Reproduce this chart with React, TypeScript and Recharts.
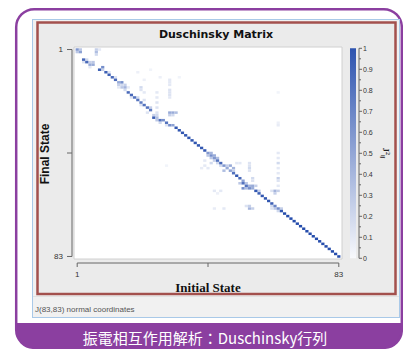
import React from 'react';
import { ScatterChart, Scatter, XAxis, YAxis, ReferenceArea, ReferenceLine } from 'recharts';

// ---------- data ----------
const stateTicks = [1, 42, 83];
const stateTickLabels = ['1', '', '83'];
const colorbarMajorTicks = [0, 0.1, 0.2, 0.3, 0.4, 0.5, 0.6, 0.7, 0.8, 0.9, 1];
const colorbarMajorLabels = ['0', '0.1', '0.2', '0.3', '0.4', '0.5', '0.6', '0.7', '0.8', '0.9', '1'];
const colorbarMinorTicks = [0.05, 0.15, 0.25, 0.35, 0.45, 0.55, 0.65, 0.75, 0.85, 0.95];

// [initial state, final state, J_ij^2] — dominant (near-diagonal) elements
const mainCells: [number, number, number][] = [
  [1, 1, 0.55], [2, 2, 0.5], [3, 5, 0.8], [4, 6, 0.8], [5, 7, 0.45], [6, 7, 0.45], [7, 2, 0.35],
  [8, 9, 0.85], [9, 8, 0.6], [10, 10, 0.85], [11, 11, 0.85], [12, 12, 0.8], [13, 13, 0.8], [14, 14, 0.45],
  [15, 14, 0.6], [16, 16, 0.4], [17, 18, 0.8], [18, 19, 0.8], [19, 20, 0.75], [20, 21, 0.75], [21, 22, 0.7],
  [22, 23, 0.75], [23, 24, 0.75], [24, 25, 0.7], [25, 28, 0.85], [26, 28, 0.35], [27, 29, 0.75], [28, 29, 0.6],
  [29, 30, 0.75], [30, 31, 0.6], [31, 31, 0.5], [32, 32, 0.9], [33, 33, 0.9], [34, 34, 0.9], [35, 35, 0.9],
  [36, 36, 0.9], [37, 37, 0.9], [38, 38, 0.9], [39, 39, 0.9], [40, 40, 0.9], [41, 41, 0.9], [42, 42, 0.55],
  [43, 43, 0.6], [44, 44, 0.55], [45, 45, 0.75], [46, 46, 0.8], [47, 47, 0.55], [48, 48, 0.45], [49, 49, 0.5],
  [50, 50, 0.75], [51, 51, 0.9], [52, 52, 0.8], [53, 54, 0.75], [54, 55, 0.75], [55, 56, 0.6], [56, 56, 0.45],
  [57, 57, 0.9], [58, 58, 0.85], [59, 59, 0.9], [60, 60, 0.9], [61, 61, 0.9], [62, 62, 0.85], [63, 63, 0.65],
  [64, 64, 0.6], [65, 65, 0.9], [66, 66, 0.95], [67, 67, 0.95], [68, 68, 0.95], [69, 69, 0.95], [70, 70, 0.95],
  [71, 71, 0.95], [72, 72, 0.95], [73, 73, 0.95], [74, 74, 0.95], [75, 75, 0.95], [76, 76, 0.95], [77, 77, 0.95],
  [78, 78, 0.95], [79, 79, 0.95], [80, 80, 0.95], [81, 81, 0.95], [82, 82, 0.95], [83, 83, 0.95],
];

// weaker mode-mixing (off-diagonal) elements
const couplingCells: [number, number, number][] = [
  [1, 2, 0.3], [2, 1, 0.3], [7, 1, 0.25], [7, 3, 0.2], [8, 1, 0.12], [5, 6, 0.25], [6, 6, 0.3], [4, 5, 0.2],
  [3, 6, 0.15], [5, 8, 0.12], [9, 9, 0.25], [11, 10, 0.15], [13, 12, 0.15],
  [14, 15, 0.25], [15, 16, 0.3], [16, 15, 0.25], [15, 15, 0.2], [16, 17, 0.2], [14, 16, 0.12], [17, 16, 0.12],
  [21, 16, 0.2], [21, 17, 0.15], [22, 18, 0.12], [20, 20, 0.2], [22, 21, 0.15], [21, 23, 0.15], [18, 20, 0.15],
  [26, 18, 0.12], [26, 20, 0.12], [26, 22, 0.15], [26, 24, 0.15], [26, 26, 0.15], [26, 27, 0.2],
  [30, 13, 0.12], [30, 14, 0.12], [30, 15, 0.12], [30, 17, 0.15], [30, 18, 0.15], [30, 19, 0.15], [30, 20, 0.12],
  [30, 26, 0.45], [31, 26, 0.45], [32, 26, 0.35], [30, 27, 0.25], [31, 27, 0.2],
  [24, 24, 0.25], [23, 26, 0.15], [25, 27, 0.25], [26, 29, 0.3], [27, 30, 0.2], [29, 31, 0.15],
  [20, 10, 0.08], [24, 9, 0.06], [27, 12, 0.08], [22, 13, 0.08], [33, 12, 0.06], [64, 18, 0.06],
  [43, 42, 0.4], [44, 43, 0.45], [42, 43, 0.3], [43, 44, 0.3], [45, 44, 0.35], [44, 45, 0.25], [43, 46, 0.2],
  [45, 46, 0.2], [46, 47, 0.2], [41, 45, 0.12], [41, 47, 0.12], [42, 48, 0.12], [40, 48, 0.1], [29, 47, 0.06],
  [49, 47, 0.45], [50, 48, 0.4], [47, 49, 0.35], [50, 49, 0.25], [48, 47, 0.25],
  [51, 46, 0.12], [52, 46, 0.12], [55, 46, 0.15], [55, 47, 0.15], [55, 48, 0.2], [55, 49, 0.15],
  [44, 57, 0.12], [46, 57, 0.12], [45, 58, 0.08],
  [44, 64, 0.1], [47, 64, 0.12], [55, 64, 0.4], [56, 64, 0.25], [54, 63, 0.15], [55, 63, 0.25],
  [53, 53, 0.5], [54, 54, 0.3], [53, 56, 0.6], [54, 56, 0.35], [56, 52, 0.2], [56, 53, 0.15], [56, 55, 0.45],
  [55, 55, 0.4], [57, 55, 0.25], [52, 54, 0.3], [58, 57, 0.25],
  [62, 57, 0.15], [63, 57, 0.4], [64, 57, 0.25], [63, 58, 0.25],
  [64, 42, 0.12], [64, 44, 0.12], [64, 46, 0.2], [64, 48, 0.12], [64, 50, 0.12], [64, 52, 0.25], [64, 53, 0.15],
  [64, 55, 0.12], [64, 30, 0.08], [64, 31, 0.1],
  [62, 63, 0.2], [63, 64, 0.3], [62, 64, 0.15], [64, 65, 0.2], [65, 64, 0.25],
];

// ---------- geometry / style ----------
const W = 403;
const H = 349;
const PLOT_LEFT = 72;
const PLOT_RIGHT = 359;
const PLOT_TOP = 47;
const PLOT_BOTTOM = 263;
const Y_AXIS_W = 30;
const CB_AXIS_W = 40;
const X_AXIS_H = 30;
const UNIT_X = 268 / 84;
const UNIT_Y = 212 / 84;
const X_DOMAIN: [number, number] = [(PLOT_LEFT - 74) / UNIT_X, (PLOT_RIGHT - 74) / UNIT_X];
const Y_DOMAIN: [number, number] = [0, (PLOT_BOTTOM - PLOT_TOP) / UNIT_Y];
const CB_DOMAIN: [number, number] = [-(PLOT_BOTTOM - 258.3) / 210, 1 + (48.3 - PLOT_TOP) / 210];
const CB_X1 = (350 - 74) / UNIT_X;
const CB_X2 = (356 - 74) / UNIT_X;

const colorFor = (v: number) =>
  `rgb(${Math.round(255 - 228 * v)}, ${Math.round(255 - 187 * v)}, ${Math.round(255 - 87 * v)})`;

const cells = [...couplingCells, ...mainCells].map(([i, j, v]) => ({ initial: i, final: j, J2: v }));

const CellShape = (props: any) => {
  const { cx, cy, payload } = props;
  if (cx == null || cy == null) return null;
  return (
    <rect x={cx - UNIT_X / 2} y={cy - UNIT_Y / 2} width={UNIT_X} height={UNIT_Y} fill={colorFor(payload.J2)} />
  );
};

const ColorbarTick = (props: any) => {
  const { y, payload } = props;
  const value = payload.value;
  const idx = colorbarMajorTicks.findIndex((t) => Math.abs(t - value) < 1e-6);
  const ax = PLOT_RIGHT;
  if (idx >= 0) {
    return (
      <g>
        <line x1={ax} x2={ax + 3} y1={y} y2={y} stroke="#666" strokeWidth={1} />
        <text x={ax + 4} y={y} dy="0.35em" fontSize={7} fill="#333" fontFamily="Liberation Sans, Arial, sans-serif">
          {colorbarMajorLabels[idx]}
        </text>
      </g>
    );
  }
  return <line x1={ax} x2={ax + 2} y1={y} y2={y} stroke="#666" strokeWidth={1} />;
};

const tickStyle = { fontSize: 8, fill: '#333', fontFamily: 'Liberation Sans, Arial, sans-serif' };

export default function App() {
  return (
    <div style={{ position: 'absolute', left: 0, top: 0, width: W, height: H, background: '#fff', overflow: 'hidden' }}>
      <svg width={W} height={H} style={{ position: 'absolute', left: 0, top: 0 }}>
        <defs>
          <clipPath id="frameClip">
            <rect x={16} y={9} width={386} height={339} rx={18} ry={18} />
          </clipPath>
        </defs>
        <rect x={16} y={9} width={386} height={339} rx={18} ry={18} fill="#fff" />
        <rect x={16} y={323} width={386} height={26} fill="#8b3fa0" clipPath="url(#frameClip)" />
        <rect x={16.2} y={9.2} width={385.6} height={338.6} rx={18} ry={18} fill="none" stroke="#8b3fa0" strokeWidth={2.5} />
        {/* window */}
        <rect x={32.5} y={19.5} width={367} height={298} fill="#f1f1f1" stroke="#a9c9e8" strokeWidth={1} />
        <rect x={37.5} y={22.5} width={358} height={271.5} fill="#ebebeb" stroke="#a3504d" strokeWidth={2.5} />
        <line x1={33} x2={399} y1={296.5} y2={296.5} stroke="#e2e2e2" />
        <text x={216} y={34} dy="0.35em" textAnchor="middle" fontSize={11} fontWeight="bold" fill="#111" fontFamily="DejaVu Sans, Verdana, sans-serif">
          Duschinsky Matrix
        </text>
        <text x={208} y={287} dy="0.35em" textAnchor="middle" fontSize={13} fontWeight="bold" fill="#111" fontFamily="Liberation Serif, Times New Roman, serif">
          Initial State
        </text>
        <text x={45} y={154} dy="0.35em" textAnchor="middle" fontSize={12} fontWeight="bold" fill="#111" fontFamily="Liberation Sans, Arial, sans-serif" transform="rotate(-90 45 154)">
          Final State
        </text>
        <text x={386} y={153} dy="0.35em" textAnchor="middle" fontSize={9} fontWeight="bold" fill="#222" fontFamily="Liberation Serif, serif" transform="rotate(90 386 153)">
          J<tspan fontSize={6} dy={-3}>2</tspan><tspan fontSize={6} dy={5}>ij</tspan>
        </text>
        <text x={35} y={309} dy="0.35em" fontSize={8} fill="#555" fontFamily="Liberation Sans, Arial, sans-serif">
          J(83,83) normal coordinates
        </text>
        <text x={205} y={339} dy="0.35em" textAnchor="middle" fontSize={15} fill="#fff" fontFamily="Noto Sans CJK JP, sans-serif">
          振電相互作用解析：Duschinsky行列
        </text>
      </svg>
      <div style={{ position: 'absolute', left: 0, top: 0 }}>
        <ScatterChart
          width={W}
          height={H}
          margin={{ top: PLOT_TOP, left: PLOT_LEFT - Y_AXIS_W, right: W - PLOT_RIGHT - CB_AXIS_W, bottom: H - PLOT_BOTTOM - X_AXIS_H }}
        >
          <defs>
            <linearGradient id="cbGrad" x1="0" y1="0" x2="0" y2="1">
              <stop offset="0%" stopColor={colorFor(0.92)} />
              <stop offset="100%" stopColor={colorFor(0.03)} />
            </linearGradient>
          </defs>
          <XAxis
            xAxisId="x"
            type="number"
            dataKey="initial"
            domain={X_DOMAIN}
            allowDataOverflow
            ticks={stateTicks}
            tickFormatter={(v: number) => stateTickLabels[stateTicks.indexOf(v)] ?? ''}
            height={X_AXIS_H}
            axisLine={false}
            tickSize={4}
            tickMargin={4}
            tickLine={{ stroke: '#666' }}
            tick={tickStyle}
            interval={0}
          />
          <YAxis
            yAxisId="y"
            type="number"
            dataKey="final"
            domain={Y_DOMAIN}
            reversed
            allowDataOverflow
            ticks={stateTicks}
            tickFormatter={(v: number) => stateTickLabels[stateTicks.indexOf(v)] ?? ''}
            width={Y_AXIS_W}
            axisLine={false}
            tickSize={5}
            tickMargin={4}
            tickLine={{ stroke: '#666' }}
            tick={tickStyle}
            interval={0}
          />
          <YAxis
            yAxisId="cb"
            orientation="right"
            type="number"
            domain={CB_DOMAIN}
            allowDataOverflow
            ticks={[...colorbarMajorTicks, ...colorbarMinorTicks]}
            width={CB_AXIS_W}
            axisLine={false}
            tickLine={false}
            tick={<ColorbarTick />}
            interval={0}
          />
          <ReferenceArea xAxisId="x" yAxisId="y" x1={0} x2={84} y1={0} y2={84} fill="#ffffff" fillOpacity={1} stroke="#d0d0d0" strokeWidth={1} ifOverflow="visible" />
          <ReferenceArea xAxisId="x" yAxisId="cb" x1={CB_X1} x2={CB_X2} y1={0} y2={1} fill="url(#cbGrad)" fillOpacity={1} stroke="none" ifOverflow="visible" />
          <ReferenceLine xAxisId="x" yAxisId="y" segment={[{ x: 1, y: Y_DOMAIN[1] }, { x: 83, y: Y_DOMAIN[1] }]} stroke="#666" ifOverflow="visible" />
          <ReferenceLine xAxisId="x" yAxisId="y" segment={[{ x: X_DOMAIN[0], y: 1 }, { x: X_DOMAIN[0], y: 83 }]} stroke="#666" ifOverflow="visible" />
          <ReferenceLine xAxisId="x" yAxisId="cb" segment={[{ x: X_DOMAIN[1], y: 0 }, { x: X_DOMAIN[1], y: 1 }]} stroke="#666" ifOverflow="visible" />
          <Scatter xAxisId="x" yAxisId="y" data={cells} shape={CellShape} isAnimationActive={false} />
        </ScatterChart>
      </div>
    </div>
  );
}
